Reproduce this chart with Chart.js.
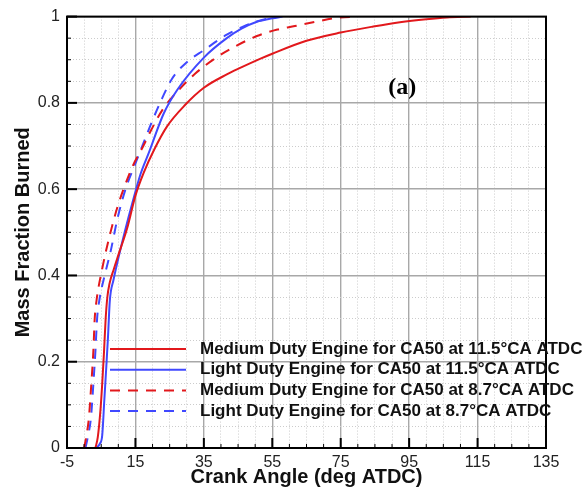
<!DOCTYPE html>
<html>
<head>
<meta charset="utf-8">
<script src="https://cdn.jsdelivr.net/npm/chart.js@4.4.0/dist/chart.umd.min.js"></script>
<style>
  html, body { margin: 0; padding: 0; background: #fff; }
  canvas { display: block; }
</style>
</head>
<body>
<canvas id="mfbChart" width="586" height="495"></canvas>
<script>
// crank angle (deg ATDC) and mass fraction burned
const mdCA115 = [3.3, 4.0, 4.8, 5.3, 5.8, 6.3, 6.8, 7.4, 8.7, 10.0, 12.6, 15.0, 17.4, 20.5, 24.2, 29.5, 35.0, 41.7, 45.6, 51.4, 55.0, 65.0, 75.0, 84.5, 92.3, 100.0, 106.0, 113.0];
const mdMFB115 = [0, 0.025, 0.09, 0.15, 0.22, 0.30, 0.35, 0.38, 0.415, 0.447, 0.51, 0.585, 0.638, 0.692, 0.745, 0.795, 0.835, 0.866, 0.881, 0.902, 0.914, 0.944, 0.963, 0.977, 0.987, 0.994, 0.998, 1.0];

const ldCA115 = [3.6, 4.6, 5.3, 5.9, 6.5, 7.0, 7.5, 8.6, 10.0, 12.0, 14.0, 16.5, 18.9, 23.3, 27.2, 35.0, 41.7, 46.0, 50.5, 55.0, 58.0];
const ldMFB115 = [0, 0.01, 0.03, 0.11, 0.19, 0.26, 0.34, 0.39, 0.44, 0.505, 0.565, 0.635, 0.684, 0.776, 0.83, 0.905, 0.95, 0.972, 0.988, 0.996, 1.0];

const mdCA87 = [0.0, 0.7, 1.4, 2.1, 2.7, 3.1, 3.6, 5.3, 7.4, 9.8, 12.0, 14.3, 17.3, 19.6, 23.0, 27.8, 32.5, 38.8, 43.7, 50.5, 56.5, 61.6, 67.7, 73.8, 80.0];
const mdMFB87 = [0, 0.03, 0.07, 0.148, 0.224, 0.30, 0.34, 0.416, 0.49, 0.56, 0.61, 0.655, 0.70, 0.737, 0.785, 0.831, 0.868, 0.906, 0.929, 0.955, 0.970, 0.978, 0.988, 0.997, 1.0];

const ldCA87 = [0.4, 1.2, 2.0, 2.7, 3.3, 3.8, 4.4, 6.0, 7.7, 9.7, 12.1, 14.5, 17.0, 19.5, 22.2, 25.7, 30.1, 35.0, 41.7, 46.6, 51.0, 56.3];
const ldMFB87 = [0, 0.03, 0.07, 0.148, 0.224, 0.30, 0.34, 0.40, 0.454, 0.53, 0.60, 0.65, 0.70, 0.75, 0.80, 0.856, 0.895, 0.922, 0.958, 0.977, 0.99, 1.0];

const xTickLabels = [-5, 15, 35, 55, 75, 95, 115, 135];
const yTickLabels = [0, 0.2, 0.4, 0.6, 0.8, 1];

const RED = 'rgb(226, 24, 28)';
const BLUE = 'rgb(64, 72, 255)';
const FONT = "'Liberation Sans', Arial, sans-serif";

const toPoints = (xs, ys) => xs.map((x, i) => ({ x: x, y: ys[i] }));
const isMajorX = v => xTickLabels.some(l => Math.abs(l - v) < 1e-6);
const isMajorY = v => yTickLabels.some(l => Math.abs(l - v) < 1e-6);

function line(label, xs, ys, color, dash) {
  return {
    label: label,
    data: toPoints(xs, ys),
    borderColor: color,
    backgroundColor: color,
    borderWidth: 2,
    borderDash: dash,
    pointRadius: 0,
    fill: false,
    cubicInterpolationMode: 'monotone'
  };
}

// black frame + inward tick marks
const frameTicks = {
  id: 'frameTicks',
  afterDraw(chart) {
    const { ctx, chartArea: a, scales: { x, y } } = chart;
    ctx.save();
    ctx.strokeStyle = '#000';
    x.ticks.forEach(t => {
      const px = x.getPixelForValue(t.value);
      const major = isMajorX(t.value);
      ctx.lineWidth = major ? 2 : 1;
      ctx.beginPath();
      ctx.moveTo(px, a.bottom);
      ctx.lineTo(px, a.bottom - (major ? 10 : 4));
      ctx.stroke();
    });
    y.ticks.forEach(t => {
      const py = y.getPixelForValue(t.value);
      const major = isMajorY(t.value);
      ctx.lineWidth = major ? 2 : 1;
      ctx.beginPath();
      ctx.moveTo(a.left, py);
      ctx.lineTo(a.left + (major ? 10 : 4), py);
      ctx.stroke();
    });
    ctx.lineWidth = 2;
    ctx.strokeRect(a.left, a.top, a.right - a.left, a.bottom - a.top);

    ctx.fillStyle = '#000';
    ctx.font = "bold 24px 'Liberation Serif', 'Times New Roman', serif";
    ctx.textAlign = 'center';
    ctx.textBaseline = 'middle';
    ctx.fillText('(a)', x.getPixelForValue(93), y.getPixelForValue(0.835));
    ctx.restore();
  }
};

// legend sitting inside the plot, bottom right
const innerLegend = {
  id: 'innerLegend',
  afterDraw(chart) {
    const { ctx, chartArea: a } = chart;
    ctx.save();
    ctx.font = 'bold 17px ' + FONT;
    ctx.textAlign = 'left';
    ctx.textBaseline = 'middle';
    chart.data.datasets.forEach((ds, i) => {
      const yy = a.bottom - 99 + i * 20.7;
      ctx.strokeStyle = ds.borderColor;
      ctx.lineWidth = 2;
      ctx.setLineDash(ds.borderDash || []);
      ctx.beginPath();
      ctx.moveTo(a.left + 43, yy);
      ctx.lineTo(a.left + 119, yy);
      ctx.stroke();
      ctx.setLineDash([]);
      ctx.fillStyle = '#111';
      ctx.fillText(ds.label, a.left + 133, yy);
    });
    ctx.restore();
  }
};

new Chart(document.getElementById('mfbChart'), {
  type: 'line',
  data: {
    datasets: [
      line('Medium Duty Engine for CA50 at 11.5°CA ATDC', mdCA115, mdMFB115, RED, []),
      line('Light Duty Engine for CA50 at 11.5°CA ATDC', ldCA115, ldMFB115, BLUE, []),
      line('Medium Duty Engine for CA50 at 8.7°CA ATDC', mdCA87, mdMFB87, RED, [10, 8]),
      line('Light Duty Engine for CA50 at 8.7°CA ATDC', ldCA87, ldMFB87, BLUE, [10, 8])
    ]
  },
  options: {
    responsive: false,
    animation: false,
    devicePixelRatio: 1,
    layout: { padding: { top: 12, right: 40, left: 0, bottom: 0 } },
    plugins: {
      legend: { display: false },
      tooltip: { enabled: false }
    },
    scales: {
      x: {
        type: 'linear',
        min: -5,
        max: 135,
        afterFit: s => { s.height = 47; },
        ticks: {
          stepSize: 5,
          autoSkip: false,
          maxRotation: 0,
          padding: 5,
          color: '#222',
          font: { family: FONT, size: 16 },
          callback: v => isMajorX(v) ? String(v) : ''
        },
        grid: {
          drawTicks: false,
          color: c => isMajorX(c.tick.value) ? '#a8a8a8' : '#cccccc',
          lineWidth: c => isMajorX(c.tick.value) ? 1.4 : 1
        },
        border: {
          display: false,
          dash: c => isMajorX(c.tick.value) ? [] : [1, 2]
        },
        title: {
          display: true,
          text: 'Crank Angle (deg ATDC)',
          color: '#111',
          font: { family: FONT, size: 20, weight: 'bold' },
          padding: { top: 0, bottom: 6 }
        }
      },
      y: {
        min: 0,
        max: 1,
        afterFit: s => { s.width = 67; },
        ticks: {
          stepSize: 0.05,
          autoSkip: false,
          padding: 7,
          color: '#222',
          font: { family: FONT, size: 16 },
          callback: v => isMajorY(v) ? String(Math.round(v * 10) / 10) : ''
        },
        grid: {
          drawTicks: false,
          color: c => isMajorY(c.tick.value) ? '#a8a8a8' : '#cccccc',
          lineWidth: c => isMajorY(c.tick.value) ? 1.4 : 1
        },
        border: {
          display: false,
          dash: c => isMajorY(c.tick.value) ? [] : [1, 2]
        },
        title: {
          display: true,
          text: 'Mass Fraction Burned',
          color: '#111',
          font: { family: FONT, size: 20, weight: 'bold' },
          padding: { top: 11, bottom: 0 }
        }
      }
    }
  },
  plugins: [frameTicks, innerLegend]
});
</script>
</body>
</html>
